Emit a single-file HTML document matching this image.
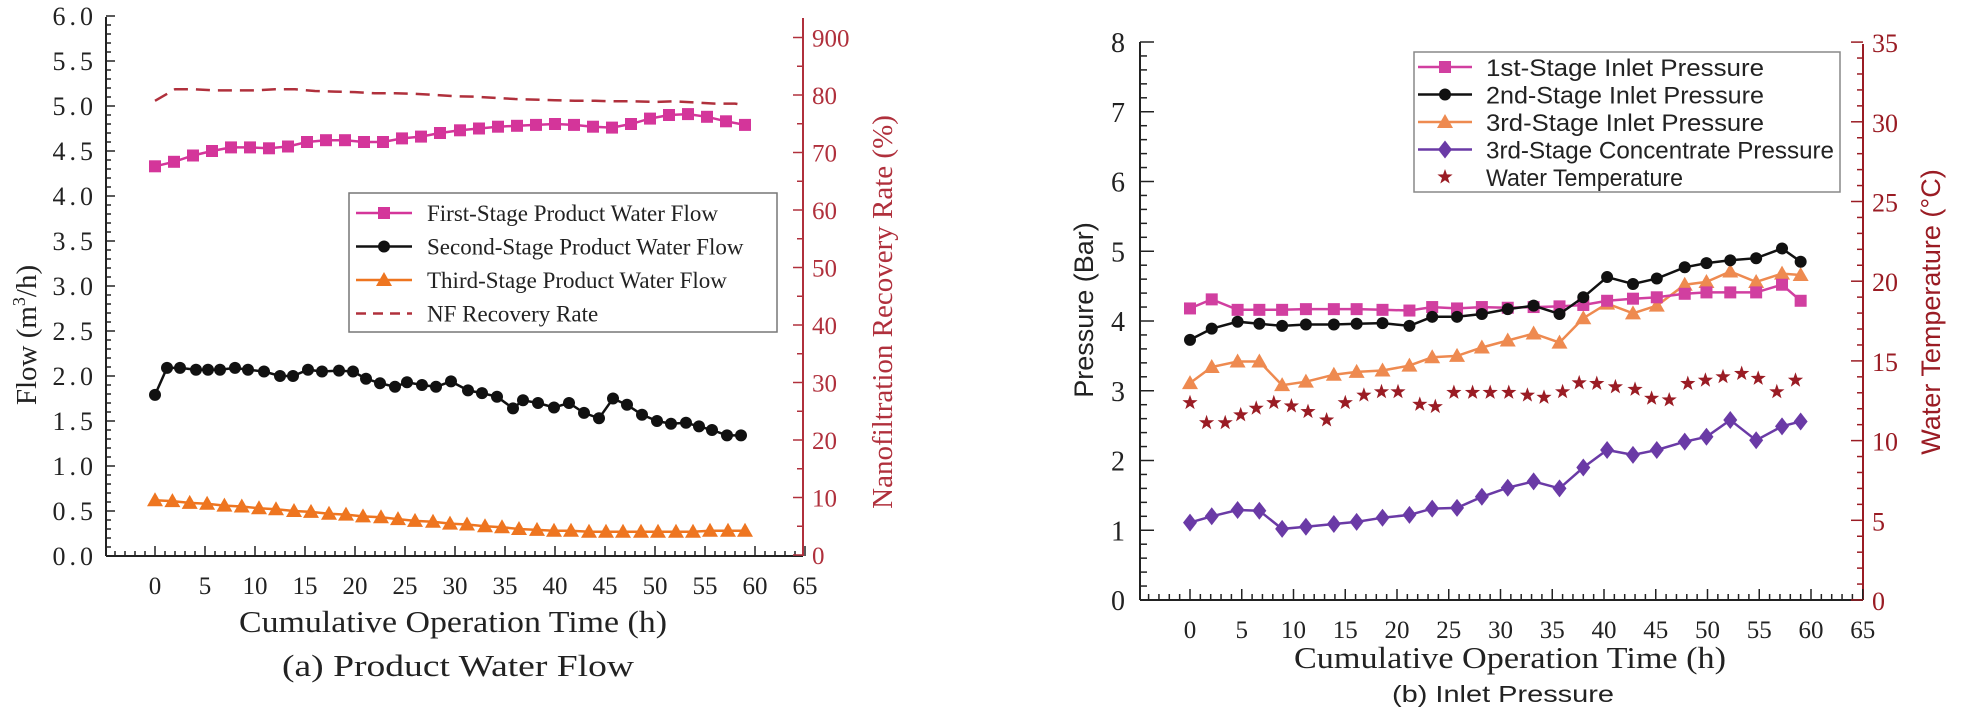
<!DOCTYPE html>
<html><head><meta charset="utf-8">
<style>
html,body{margin:0;padding:0;background:#fff;}
svg{display:block;}
.serif{font-family:"Liberation Serif",serif;}
.sans{font-family:"Liberation Sans",sans-serif;}
</style></head>
<body>
<svg id="chart" width="1962" height="720" viewBox="0 0 1962 720" xmlns="http://www.w3.org/2000/svg">
<g id="left"></g>
<g id="right"></g>
</svg>
<script>
// ---------- Chart (a) data ----------
const tFirst = [0,1.9,3.8,5.7,7.6,9.5,11.4,13.3,15.2,17.1,19,20.9,22.8,24.7,26.6,28.5,30.5,32.4,34.3,36.2,38.1,40,41.9,43.8,45.7,47.6,49.5,51.4,53.3,55.2,57.1,59];
const firstFlow = [4.33,4.38,4.45,4.50,4.54,4.54,4.53,4.55,4.60,4.62,4.62,4.60,4.60,4.64,4.66,4.70,4.73,4.75,4.77,4.78,4.79,4.80,4.79,4.77,4.76,4.80,4.86,4.90,4.91,4.88,4.83,4.79];
const tSecond = [0,1.2,2.5,4.1,5.3,6.5,8.0,9.3,10.9,12.5,13.8,15.3,16.7,18.4,19.8,21.1,22.5,24.0,25.2,26.7,28.1,29.6,31.3,32.7,34.2,35.8,36.8,38.3,39.9,41.4,42.9,44.4,45.8,47.2,48.7,50.2,51.6,53.1,54.4,55.7,57.2,58.6];
const secondFlow = [1.79,2.09,2.09,2.07,2.07,2.07,2.09,2.07,2.05,2.00,2.00,2.07,2.05,2.06,2.05,1.97,1.92,1.88,1.93,1.90,1.88,1.94,1.84,1.81,1.77,1.64,1.73,1.70,1.65,1.70,1.59,1.53,1.75,1.68,1.57,1.50,1.47,1.48,1.44,1.40,1.34,1.34];
const tThird = [0,1.74,3.47,5.21,6.94,8.68,10.4,12.1,13.9,15.6,17.4,19.1,20.8,22.6,24.3,26.0,27.8,29.5,31.2,33.0,34.7,36.4,38.2,39.9,41.6,43.4,45.1,46.8,48.6,50.3,52.1,53.8,55.5,57.3,59];
const thirdFlow = [0.62,0.61,0.59,0.58,0.56,0.55,0.53,0.52,0.50,0.49,0.47,0.46,0.44,0.43,0.41,0.39,0.38,0.36,0.35,0.33,0.32,0.30,0.29,0.28,0.28,0.27,0.27,0.27,0.27,0.27,0.27,0.27,0.28,0.28,0.28];
const tRecovery = [0,2,4,6,8,10,12,14,16,18,20,22,24,26,28,30,32,34,36,38,40,42,44,46,48,50,52,54,56,58,59];
const recovery = [79,81,81,80.8,80.8,80.8,81,81,80.7,80.6,80.5,80.3,80.3,80.2,80,79.8,79.7,79.5,79.3,79.2,79.1,79,79,78.9,78.9,78.8,78.9,78.7,78.5,78.5,78.2];
const flowTicks = ["0.0","0.5","1.0","1.5","2.0","2.5","3.0","3.5","4.0","4.5","5.0","5.5","6.0"];
const recTicks = ["0","10","20","30","40","50","60","70","80","900"];
const timeTicks = [0,5,10,15,20,25,30,35,40,45,50,55,60,65];

// ---------- Chart (b) data ----------
const tP = [0,2.1,4.6,6.7,8.9,11.2,13.9,16.1,18.6,21.2,23.4,25.8,28.2,30.7,33.2,35.7,38.0,40.3,42.8,45.1,47.8,49.9,52.2,54.7,57.2,59.0];
const p1 = [4.18,4.31,4.16,4.16,4.16,4.17,4.17,4.17,4.16,4.15,4.20,4.18,4.20,4.19,4.20,4.21,4.23,4.29,4.32,4.34,4.39,4.41,4.41,4.41,4.52,4.29];
const p2 = [3.73,3.89,3.99,3.96,3.93,3.95,3.95,3.96,3.97,3.93,4.06,4.06,4.10,4.17,4.22,4.10,4.34,4.63,4.53,4.61,4.77,4.83,4.87,4.90,5.04,4.85];
const p3 = [3.11,3.34,3.42,3.42,3.08,3.13,3.23,3.27,3.29,3.36,3.48,3.50,3.62,3.72,3.82,3.69,4.04,4.25,4.11,4.22,4.52,4.56,4.71,4.56,4.68,4.66];
const p3c = [1.11,1.20,1.29,1.28,1.02,1.05,1.09,1.12,1.18,1.22,1.31,1.32,1.48,1.61,1.70,1.60,1.90,2.15,2.08,2.15,2.27,2.34,2.58,2.29,2.49,2.56];
const tTemp = [0,1.6,3.4,4.9,6.4,8.1,9.8,11.4,13.2,15.0,16.8,18.5,20.1,22.2,23.7,25.5,27.3,29.0,30.8,32.6,34.2,36.0,37.6,39.3,41.1,43.0,44.6,46.3,48.1,49.8,51.5,53.3,54.9,56.7,58.5];
const temp = [12.38,11.12,11.12,11.61,12.03,12.38,12.17,11.82,11.29,12.38,12.85,13.06,13.06,12.27,12.13,13.02,13.02,13.02,13.02,12.85,12.71,13.06,13.62,13.58,13.37,13.21,12.65,12.55,13.58,13.79,14.0,14.21,13.9,13.06,13.79];
const pTicks = ["0","1","2","3","4","5","6","7","8"];
const tempTicks = ["0","5","10","15","20","25","30","35"];

const NS = "http://www.w3.org/2000/svg";
function mk(parent, tag, attrs, text){
  const e = document.createElementNS(NS, tag);
  for (const k in attrs) e.setAttribute(k, attrs[k]);
  if (text !== undefined) e.textContent = text;
  parent.appendChild(e);
  return e;
}
function poly(xs, ys){ return xs.map((x,i)=>x.toFixed(1)+","+ys[i].toFixed(1)).join(" "); }
function marker(g, type, x, y, color){
  let e;
  if (type==="sq") e = mk(g,"rect",{x:x-6,y:y-6,width:12,height:12,fill:color});
  else if (type==="ci") e = mk(g,"circle",{cx:x,cy:y,r:6,fill:color});
  else if (type==="tri") e = mk(g,"polygon",{points:`${x},${y-8} ${x-8},${y+6} ${x+8},${y+6}`,fill:color});
  else if (type==="dia") e = mk(g,"polygon",{points:`${x},${y-9} ${x-7},${y} ${x},${y+9} ${x+7},${y}`,fill:color});
  else if (type==="star"){
    let pts=[];
    for(let i=0;i<10;i++){const r=i%2?3.2:8;const a=-Math.PI/2+i*Math.PI/5;pts.push((x+r*Math.cos(a)).toFixed(1)+","+(y+r*Math.sin(a)).toFixed(1));}
    e = mk(g,"polygon",{points:pts.join(" "),fill:color});
  }
  return e;
}

// ================= Chart (a) =================
(function(){
  const L = document.getElementById("left");
  const X0=106, X1=803, Yb=556, Yt=17;
  const x = t => 155 + t*10;
  const y = v => Yb - v*90;
  const yr = v => 555 - v*5.75;
  const RED="#b0303c";
  const ax = mk(L,"g",{});
  
  
  mk(ax,"line",{x1:X0,y1:Yt,x2:X0,y2:Yb,stroke:"#222","stroke-width":2});
  mk(ax,"line",{x1:X0,y1:Yb,x2:X1,y2:Yb,stroke:"#222","stroke-width":2});
  mk(ax,"line",{x1:X1,y1:18,x2:X1,y2:Yb,stroke:RED,"stroke-width":2});
  for(let i=0;i<=60;i++){const yy=Yb-i*9;mk(ax,"line",{x1:X0,y1:yy,x2:X0+(i%5===0?9:5),y2:yy,stroke:"#222","stroke-width":1.5});}
  flowTicks.forEach((s,i)=>{
    const tl=mk(ax,"text",{x:97,y:y(parseFloat(s))+9,"text-anchor":"end","font-size":26,"letter-spacing":4,class:"serif",fill:"#222"},s);
    
    
  });
  for(let h=-4;h<=65;h++){mk(ax,"line",{x1:x(h),y1:Yb,x2:x(h),y2:Yb-(h%5===0?10:5),stroke:"#222","stroke-width":1.5});}
  timeTicks.forEach(h=>{
    const tl=mk(ax,"text",{x:x(h),y:594,"text-anchor":"middle","font-size":25,class:"serif",fill:"#222"},String(h));
    
    
  });
  for(let k=0;k<=18;k++){const yy=yr(k*5);mk(ax,"line",{x1:X1,y1:yy,x2:X1-(k%2===0?10:6),y2:yy,stroke:RED,"stroke-width":1.5});}
  recTicks.forEach((s,i)=>{
    const tl=mk(ax,"text",{x:812,y:yr(i*10)+9,"font-size":25,class:"serif",fill:RED},s);
    
    
  });
  const yt=mk(L,"text",{x:0,y:0,transform:"translate(36,335) rotate(-90)","text-anchor":"middle","font-size":29,class:"serif",fill:"#222"});
  yt.innerHTML='Flow (m<tspan font-size="18" dy="-11">3</tspan><tspan dy="11">/h)</tspan>';
  
  
  const rt=mk(L,"text",{x:0,y:0,transform:"translate(892,312) rotate(-90)","text-anchor":"middle","font-size":29,class:"serif",fill:RED},"Nanofiltration Recovery Rate (%)");
  
  
  const xt=mk(L,"text",{x:453,y:632,"text-anchor":"middle","font-size":31,class:"serif",fill:"#222",textLength:428,lengthAdjust:"spacingAndGlyphs"},"Cumulative Operation Time (h)");
  
  
  const ct=mk(L,"text",{x:458,y:676,"text-anchor":"middle","font-size":31,class:"serif",fill:"#222",textLength:352,lengthAdjust:"spacingAndGlyphs"},"(a) Product Water Flow");
  
  

  const PINK="#d4359a", BLK="#111", ORG="#ee7520";
  const gr=mk(L,"g",{});
  
  
  mk(gr,"polyline",{points:poly(tRecovery.map(x),recovery.map(yr)),fill:"none",stroke:RED,"stroke-width":2.5,"stroke-dasharray":"14,8"});
  const series=[[tFirst,firstFlow,PINK,"sq","first-stage-series"],[tSecond,secondFlow,BLK,"ci","second-stage-series"],[tThird,thirdFlow,ORG,"tri","third-stage-series"]];
  series.forEach(([ts,vs,c,m,nm])=>{
    const g=mk(L,"g",{});
    
    
    mk(g,"polyline",{points:poly(ts.map(x),vs.map(y)),fill:"none",stroke:c,"stroke-width":2.5});
    ts.forEach((t,i)=>{
      const p=marker(g,m,x(t),y(vs[i]),c);
      
      
    });
  });
  const lg=mk(L,"g",{});
  
  
  mk(lg,"rect",{x:349,y:193,width:428,height:139,fill:"#fff",stroke:"#777","stroke-width":1.5});
  const items=[["First-Stage Product Water Flow",PINK,"sq"],["Second-Stage Product Water Flow",BLK,"ci"],["Third-Stage Product Water Flow",ORG,"tri"],["NF Recovery Rate",RED,"dash"]];
  items.forEach((it,i)=>{
    const yy=213+i*33.5;
    const e=mk(lg,"g",{});
    
    
    if(it[2]==="dash") mk(e,"line",{x1:356,y1:yy,x2:412,y2:yy,stroke:it[1],"stroke-width":2.5,"stroke-dasharray":"10,7"});
    else { mk(e,"line",{x1:356,y1:yy,x2:412,y2:yy,stroke:it[1],"stroke-width":2.5}); marker(e,it[2],384,yy,it[1]); }
    mk(e,"text",{x:427,y:yy+8,"font-size":23,class:"serif",fill:"#222"},it[0]);
  });
})();

// ================= Chart (b) =================
(function(){
  const R = document.getElementById("right");
  const X0=1140, X1=1863, Yb=600, Yt=42;
  const x = t => 1190 + t*10.35;
  const y = v => Yb - v*69.75;
  const yr = v => Yb - v*15.94;
  const DR="#9a1c24";
  const ax=mk(R,"g",{});
  
  
  mk(ax,"line",{x1:X0,y1:Yt,x2:X0,y2:Yb,stroke:"#222","stroke-width":2});
  mk(ax,"line",{x1:X0,y1:Yb,x2:X1,y2:Yb,stroke:"#222","stroke-width":2});
  mk(ax,"line",{x1:X1,y1:44,x2:X1,y2:Yb,stroke:DR,"stroke-width":2});
  for(let i=0;i<=40;i++){const yy=Yb-i*69.75/5;mk(ax,"line",{x1:X0,y1:yy,x2:X0+(i%5===0?14:7),y2:yy,stroke:"#222","stroke-width":1.5});}
  pTicks.forEach((s,i)=>{
    const tl=mk(ax,"text",{x:1118,y:y(i)+10,"text-anchor":"middle","font-size":28,class:"serif",fill:"#222"},s);
    
    
  });
  for(let h=-4;h<=65;h++){mk(ax,"line",{x1:x(h),y1:Yb,x2:x(h),y2:Yb-(h%5===0?11:6),stroke:"#222","stroke-width":1.5});}
  timeTicks.forEach(h=>{
    const tl=mk(ax,"text",{x:x(h),y:638,"text-anchor":"middle","font-size":25,class:"serif",fill:"#222"},String(h));
    
    
  });
  for(let k=0;k<=35;k++){const yy=yr(k);mk(ax,"line",{x1:X1,y1:yy,x2:X1-(k%5===0?12:6),y2:yy,stroke:DR,"stroke-width":1.5});}
  tempTicks.forEach((s,i)=>{
    const tl=mk(ax,"text",{x:1872,y:yr(i*5)+10,"font-size":26,class:"serif",fill:DR},s);
    
    
  });
  const yt=mk(R,"text",{x:0,y:0,transform:"translate(1093,310) rotate(-90)","text-anchor":"middle","font-size":27,class:"sans",fill:"#222"},"Pressure (Bar)");
  
  
  const rt=mk(R,"text",{x:0,y:0,transform:"translate(1940,312) rotate(-90)","text-anchor":"middle","font-size":27,class:"sans",fill:DR},"Water Temperature (°C)");
  
  
  const xt=mk(R,"text",{x:1510,y:668,"text-anchor":"middle","font-size":31,class:"serif",fill:"#222",textLength:432,lengthAdjust:"spacingAndGlyphs"},"Cumulative Operation Time (h)");
  
  
  const ct=mk(R,"text",{x:1503,y:702,"text-anchor":"middle","font-size":23,class:"sans",fill:"#222",textLength:222,lengthAdjust:"spacingAndGlyphs"},"(b) Inlet Pressure");
  
  

  const PINK="#d13fa0", BLK="#111", ORG="#ee8a50", PUR="#6a3aa6";
  const series=[[p3c,PUR,"dia","concentrate-pressure-series"],[p3,ORG,"tri","third-stage-pressure-series"],[p1,PINK,"sq","first-stage-pressure-series"],[p2,BLK,"ci","second-stage-pressure-series"]];
  series.forEach(([vs,c,m,nm])=>{
    const g=mk(R,"g",{});
    
    
    mk(g,"polyline",{points:poly(tP.map(x),vs.map(y)),fill:"none",stroke:c,"stroke-width":2.5});
    tP.forEach((t,i)=>{
      const p=marker(g,m,x(t),y(vs[i]),c);
      
      
    });
  });
  const gs=mk(R,"g",{});
  
  
  tTemp.forEach((t,i)=>{
    const p=marker(gs,"star",x(t),yr(temp[i]),DR);
    
    
  });
  const lg=mk(R,"g",{});
  
  
  mk(lg,"rect",{x:1414,y:52,width:426,height:140,fill:"#fff",stroke:"#888","stroke-width":1.5});
  const items=[["1st-Stage Inlet Pressure",PINK,"sq"],["2nd-Stage Inlet Pressure",BLK,"ci"],["3rd-Stage Inlet Pressure",ORG,"tri"],["3rd-Stage Concentrate Pressure",PUR,"dia"],["Water Temperature",DR,"star"]];
  items.forEach((it,i)=>{
    const yy=67+i*27.5;
    const e=mk(lg,"g",{});
    
    
    if(it[2]!=="star") mk(e,"line",{x1:1418,y1:yy,x2:1472,y2:yy,stroke:it[1],"stroke-width":2.5});
    marker(e,it[2],1445,yy,it[1]);
    mk(e,"text",{x:1486,y:yy+9,"font-size":24,class:"sans",fill:"#222",textLength:(it[0].length*11.6).toFixed(0),lengthAdjust:"spacingAndGlyphs"},it[0]);
  });
})();
</script>
</body></html>
